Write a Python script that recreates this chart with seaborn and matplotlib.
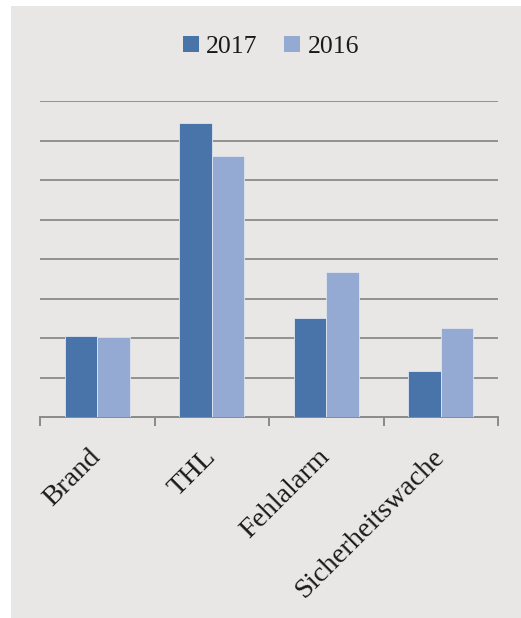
import matplotlib
matplotlib.use("Agg")
import matplotlib.pyplot as plt
from matplotlib.patches import Rectangle
import pandas as pd
import seaborn as sns

# Einsatzarten und Werte je Jahr (Einheit: Gitterlinien-Abstand)
categories = ["Brand", "THL", "Fehlalarm", "Sicherheitswache"]
years = ["2017", "2016"]
values_2017 = [2.06, 7.44, 2.51, 1.16]
values_2016 = [2.03, 6.61, 3.67, 2.25]
colors = {"2017": "#4874a9", "2016": "#94aad2"}

df = pd.DataFrame({
    "Einsatzart": categories * 2,
    "Jahr": ["2017"] * len(categories) + ["2016"] * len(categories),
    "Wert": values_2017 + values_2016,
})

sns.set_theme(style="white")
plt.rcParams["font.family"] = ["Liberation Serif", "DejaVu Serif"]

W, H = 521, 618
fig = plt.figure(figsize=(W / 100, H / 100), dpi=100)
fig.patch.set_facecolor("white")
panel = "#e9e7e5"
fig.add_artist(Rectangle((11 / W, 0), 1 - 11 / W, 1 - 6 / H, transform=fig.transFigure,
                         facecolor=panel, edgecolor="none", zorder=0))

ax = fig.add_axes([40 / W, 1 - 417 / H, (498 - 40) / W, (417 - 101) / H])
ax.set_facecolor(panel)
ax.patch.set_alpha(0)

sns.barplot(data=df, x="Einsatzart", y="Wert", hue="Jahr", hue_order=years,
            order=categories, palette=colors, width=0.57, saturation=1,
            edgecolor="#dfe5ef", linewidth=0.6, ax=ax, legend=False, zorder=3)

grid_c = "#8a8a8a"
ax.set_ylim(0, 8)
ax.set_xlim(-0.5, len(categories) - 0.5)
ax.set_yticks(range(1, 9))
ax.yaxis.grid(True, color=grid_c, linewidth=1.3, zorder=1)
ax.set_axisbelow(True)
ax.tick_params(axis="y", left=False, labelleft=False)

for s in ["left", "right", "top"]:
    ax.spines[s].set_visible(False)
ax.spines["bottom"].set_color(grid_c)
ax.spines["bottom"].set_linewidth(1.4)

ax.set_xticks(range(len(categories)))
ax.set_xticks([i - 0.5 for i in range(len(categories) + 1)], minor=True)
ax.tick_params(axis="x", which="major", bottom=False, length=0, pad=26)
ax.tick_params(axis="x", which="minor", bottom=True, length=6.5, width=1.4,
               color=grid_c, direction="out")
ax.set_xticklabels(categories, rotation=45, ha="right", va="center",
                   rotation_mode="anchor", fontsize=20.5, color="#1a1a1a")
ax.set_xlabel("")
ax.set_ylabel("")

handles = [Rectangle((0, 0), 1, 1, facecolor=colors[y], edgecolor="none") for y in years]
fig.legend(handles, years, loc="center", bbox_to_anchor=(271 / W, 1 - 47 / H),
           ncol=2, frameon=False, fontsize=18.5, handlelength=0.62, handleheight=0.62,
           handletextpad=0.28, columnspacing=1.05, labelcolor="#1a1a1a")

fig.savefig("out.png", dpi=100)
